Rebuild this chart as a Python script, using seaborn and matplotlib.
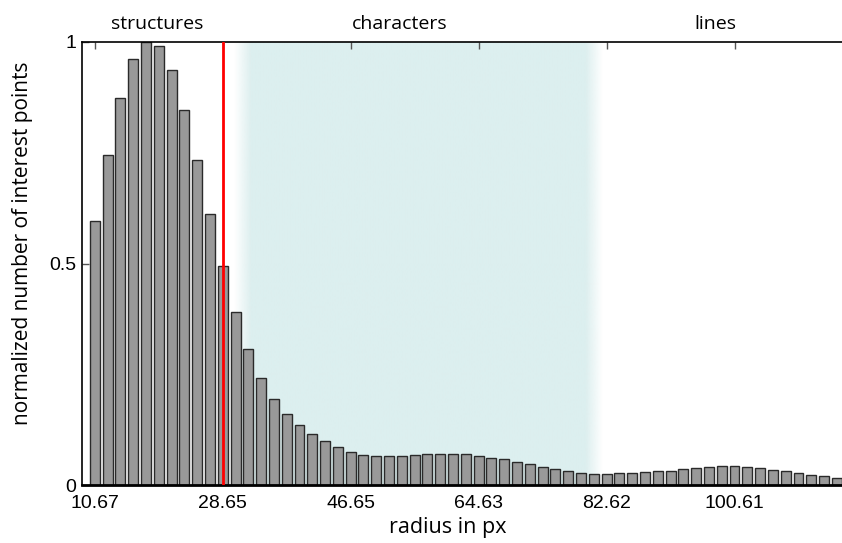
import numpy as np
import pandas as pd
import matplotlib
matplotlib.use("Agg")
import matplotlib.pyplot as plt
import seaborn as sns

# Histogram of detected interest points over scale (radius bins)
first_radius = 10.67
bin_step = 1.7988
counts = [
    0.596, 0.746, 0.873, 0.961, 1.000, 0.992, 0.937, 0.847, 0.734, 0.612,
    0.494, 0.390, 0.306, 0.241, 0.194, 0.160, 0.136, 0.116, 0.099, 0.086,
    0.075, 0.068, 0.065, 0.065, 0.065, 0.068, 0.070, 0.071, 0.071, 0.069,
    0.066, 0.062, 0.058, 0.053, 0.047, 0.041, 0.035, 0.031, 0.028, 0.025,
    0.025, 0.026, 0.027, 0.029, 0.031, 0.032, 0.035, 0.038, 0.041, 0.042,
    0.042, 0.041, 0.038, 0.034, 0.031, 0.026, 0.023, 0.020, 0.016,
]
radius = np.round(first_radius + bin_step * np.arange(len(counts)), 2)

tick_values = [10.67, 28.65, 46.65, 64.63, 82.62, 100.61]
tick_labels = ["10.67", "28.65", "46.65", "64.63", "82.62", "100.61"]
y_ticks = [0, 0.5, 1]
y_tick_labels = ["0", "0.5", "1"]

threshold_radius = 28.65
character_band = (32.6, 79.6)

regions = ["structures", "characters", "lines"]
region_centers = [19.4, 53.5, 97.9]

df = pd.DataFrame({"radius": radius, "count": counts})

sns.set_theme(style="white")
plt.rcParams["font.family"] = ["Liberation Sans", "DejaVu Sans"]
plt.rcParams["text.color"] = "black"
plt.rcParams["axes.labelcolor"] = "black"
plt.rcParams["xtick.labelcolor"] = "black"
plt.rcParams["ytick.labelcolor"] = "black"
label_font = ["Open Sans", "DejaVu Sans"]

fig = plt.figure(figsize=(8.42, 5.43), dpi=100)
ax = fig.add_axes([82 / 842, 1 - 485 / 543, 1 - 82 / 842, (485 - 42) / 543])

x_left = first_radius - bin_step * 1.0
x_right = first_radius + bin_step * 58.4
ax.set_xlim(x_left, x_right)
ax.set_ylim(0, 1)

# soft-edged shaded band for the "characters" range
fade = 2.4
xs = np.linspace(character_band[0] - fade, character_band[1] + fade, 600)
alpha = np.clip(np.minimum(xs - (character_band[0] - fade), (character_band[1] + fade) - xs) / fade, 0, 1)
rgba = np.zeros((1, xs.size, 4))
rgba[..., 0] = 220 / 255
rgba[..., 1] = 239 / 255
rgba[..., 2] = 239 / 255
rgba[..., 3] = alpha
ax.imshow(rgba, extent=[xs[0], xs[-1], 0, 1], aspect="auto", zorder=0,
          interpolation="bilinear")

sns.barplot(data=df, x="radius", y="count", native_scale=True, width=0.78,
            color="#999999", saturation=1, edgecolor="#2a2a2a", linewidth=1.0,
            ax=ax, zorder=2)

ax.axvline(threshold_radius, color="#ff0000", linewidth=2.0, zorder=3)

ax.set_xlim(x_left, x_right)
ax.set_ylim(0, 1)
ax.set_xticks(tick_values)
ax.set_xticklabels(tick_labels, fontsize=14)
ax.set_yticks(y_ticks)
ax.set_yticklabels(y_tick_labels, fontsize=14)
ax.tick_params(axis="both", direction="in", length=5, width=1, color="#555555",
               top=True, bottom=False, left=True, right=False, pad=7)
ax.tick_params(axis="y", pad=4)

for side in ["left", "top", "bottom"]:
    ax.spines[side].set_visible(True)
    ax.spines[side].set_color("black")
ax.spines["left"].set_linewidth(1.2)
ax.spines["top"].set_linewidth(1.2)
ax.spines["bottom"].set_linewidth(2.0)
ax.spines["right"].set_visible(False)

ax.set_xlabel("radius in px", fontsize=15.5, family=label_font)
ax.set_ylabel("normalized number of interest points", fontsize=15, family=label_font)
ax.xaxis.set_label_coords((448 - 82) / 760, -(527 - 485) / 443)
ax.yaxis.set_label_coords(-(82 - 23) / 760, (485 - 243) / 443)
ax.xaxis.label.set_va("center")
ax.yaxis.label.set_va("center")

for name, cx in zip(regions, region_centers):
    ax.text(cx, 1 + (42 - 24) / 443, name, transform=ax.get_xaxis_transform(),
            ha="center", va="center", fontsize=14, family=label_font)

ax.grid(False)
fig.savefig("out.png", dpi=100)
